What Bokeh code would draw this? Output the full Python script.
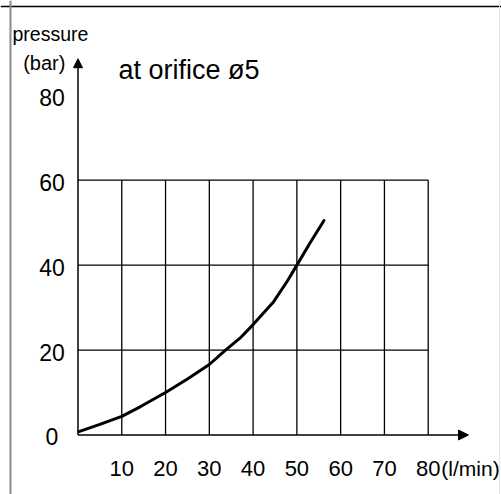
from bokeh.plotting import figure
from bokeh.models import Range1d, Arrow, NormalHead, Label, Span
from bokeh.core.properties import value
from bokeh.embed import file_html
from bokeh.resources import INLINE

# ---- data ----
flow = [0.2, 5, 10, 14.3, 20, 25, 30, 33.7, 37, 40, 44.7, 47.8, 50, 53.1, 56.2]
pressure = [0.8, 2.5, 4.4, 6.7, 10.0, 13.2, 16.6, 20.0, 22.8, 26.0, 31.4, 36.2, 40.0, 45.4, 50.5]
x_ticks = [10, 20, 30, 40, 50, 60, 70, 80]
x_labels = ["10", "20", "30", "40", "50", "60", "70", "80"]
y_ticks = [0, 20, 40, 60, 80]
y_labels = ["0", "20", "40", "60", "80"]
grid_y = [20, 40, 60]
title = "at orifice ø5"
y_name = ["pressure", "(bar)"]
x_unit = "(l/min)"

FONT_S = "Liberation Sans"
FONT = value(FONT_S)

W, H = 501, 494
p = figure(width=W, height=H, output_backend="svg", toolbar_location=None,
           x_range=Range1d(-17.704, 96.745), y_range=Range1d(-14.011, 102.315),
           x_axis_location=None, y_axis_location=None, min_border=0)
p.xgrid.visible = False
p.ygrid.visible = False
p.outline_line_color = None
p.background_fill_color = "white"

# border of the picture
p.add_layout(Span(location=100.9, dimension="width", line_color="black", line_width=1.5))
p.add_layout(Span(location=-15.42, dimension="height", line_color="#8a8a8a", line_width=2))
p.add_layout(Span(location=96.29, dimension="height", line_color="#e6e6e6", line_width=1))

# grid
top = max(grid_y)
p.segment(x0=x_ticks, y0=[0] * len(x_ticks), x1=x_ticks, y1=[top] * len(x_ticks),
          line_color="black", line_width=1.3)
p.segment(x0=[0] * len(grid_y), y0=grid_y, x1=[max(x_ticks)] * len(grid_y), y1=grid_y,
          line_color="black", line_width=1.3)

# axes with arrows
p.add_layout(Arrow(x_start=0, y_start=0, x_end=89.2, y_end=0, line_width=1.5,
                   end=NormalHead(size=10, fill_color="black", line_color="black")))
p.add_layout(Arrow(x_start=0, y_start=0, x_end=0, y_end=88.6, line_width=1.5,
                   end=NormalHead(size=9, fill_color="black", line_color="black")))

# curve
p.line(flow, pressure, line_color="black", line_width=3, line_cap="round", line_join="round")

# tick labels
p.text(x=x_ticks, y=[0] * len(x_ticks), text=x_labels, text_font=FONT,
       text_font_size="22px", text_align="center", text_baseline="middle",
       y_offset=34, text_color="black")
p.text(x=[0] * len(y_ticks), y=y_ticks, text=y_labels, text_font=FONT,
       text_font_size="23px", text_align="center", text_baseline="middle",
       x_offset=-26, y_offset=2, text_color="black")

# annotations
p.add_layout(Label(x=83.0, y=0, text=x_unit, text_font=FONT_S, text_font_size="21px",
                   text_color="black", text_align="left", text_baseline="middle", y_offset=-34))
p.add_layout(Label(x=9.25, y=86.0, text=title, text_font=FONT_S, text_font_size="27px",
                   text_color="black", text_align="left", text_baseline="alphabetic"))
p.add_layout(Label(x=-6.3, y=94.5, text=y_name[0], text_font=FONT_S, text_font_size="19.5px",
                   text_color="black", text_align="center", text_baseline="middle"))
p.add_layout(Label(x=-7.7, y=87.5, text=y_name[1], text_font=FONT_S, text_font_size="20px",
                   text_color="black", text_align="center", text_baseline="middle"))

open("out.html", "w").write(file_html(p, INLINE))
